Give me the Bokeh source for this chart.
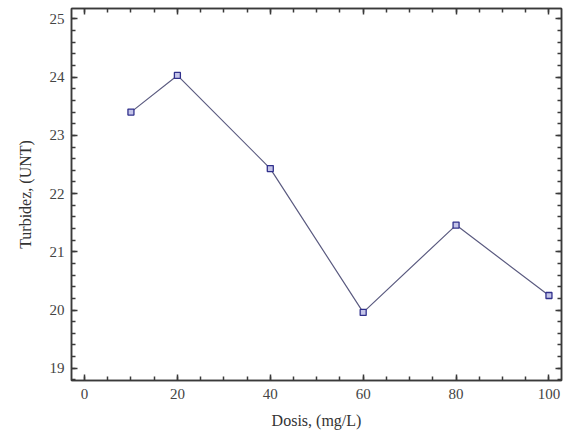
from bokeh.plotting import figure
from bokeh.models import LinearAxis, Range1d, FixedTicker, CustomLabelingPolicy
from bokeh.embed import file_html
from bokeh.resources import INLINE

dosis = [10, 20, 40, 60, 80, 100]
turbidez = [23.40, 24.03, 22.43, 19.96, 21.46, 20.25]
x_ticks = [0, 20, 40, 60, 80, 100]
y_ticks = [19, 20, 21, 22, 23, 24, 25]

FONT = "Liberation Serif"
AX = "#3a3a3a"

p = figure(width=571, height=431, output_backend="svg", toolbar_location=None,
           x_range=Range1d(-2.8, 102.7), y_range=Range1d(18.79, 25.18),
           x_axis_label="Dosis, (mg/L)", y_axis_label="Turbidez, (UNT)",
           min_border_left=71, min_border_right=10, min_border_top=8, min_border_bottom=10)
p.background_fill_color = "white"
p.border_fill_color = "white"
p.grid.visible = False
p.outline_line_color = AX
p.outline_line_width = 1.5

def style(ax, ticks, minor, labels=True):
    ax.ticker = FixedTicker(ticks=ticks, minor_ticks=minor)
    ax.axis_line_color = AX
    ax.axis_line_width = 1.5
    ax.major_tick_line_color = AX
    ax.minor_tick_line_color = AX
    ax.major_tick_line_width = 1.5
    ax.minor_tick_line_width = 1.5
    ax.major_tick_in = 6
    ax.major_tick_out = 0
    ax.minor_tick_in = 4
    ax.minor_tick_out = 0
    ax.major_label_text_font = FONT
    ax.major_label_text_font_size = "15px"
    ax.major_label_text_color = "#444444"
    ax.axis_label_text_font = FONT
    ax.axis_label_text_font_size = "16px"
    ax.axis_label_text_font_style = "normal"
    ax.axis_label_text_color = "#333333"
    if not labels:
        ax.major_label_policy = CustomLabelingPolicy(
            code="const n = indices.size; for (let i = 0; i < n; i++) { indices.unset(i) } return indices")
        ax.major_label_standoff = 0
        ax.major_label_text_font_size = "1px"

x_minor = [v for v in range(-5, 106, 5)]
y_minor = [round(18.8 + 0.2 * i, 1) for i in range(33)]

style(p.xaxis[0], x_ticks, x_minor)
style(p.yaxis[0], y_ticks, y_minor)
p.xaxis[0].major_label_standoff = 8
p.xaxis[0].axis_label_standoff = 10
p.yaxis[0].major_label_standoff = 7
p.yaxis[0].axis_label_standoff = 13

top = LinearAxis()
style(top, x_ticks, x_minor, labels=False)
p.add_layout(top, "above")
right = LinearAxis()
style(right, y_ticks, y_minor, labels=False)
p.add_layout(right, "right")

p.line(dosis, turbidez, line_color="#5b5b80", line_width=1.2)
p.scatter(dosis, turbidez, marker="square", size=6, line_color="#30308c",
          fill_color="#c4c4e8", line_width=1.3)

open("out.html", "w").write(file_html(p, INLINE))
